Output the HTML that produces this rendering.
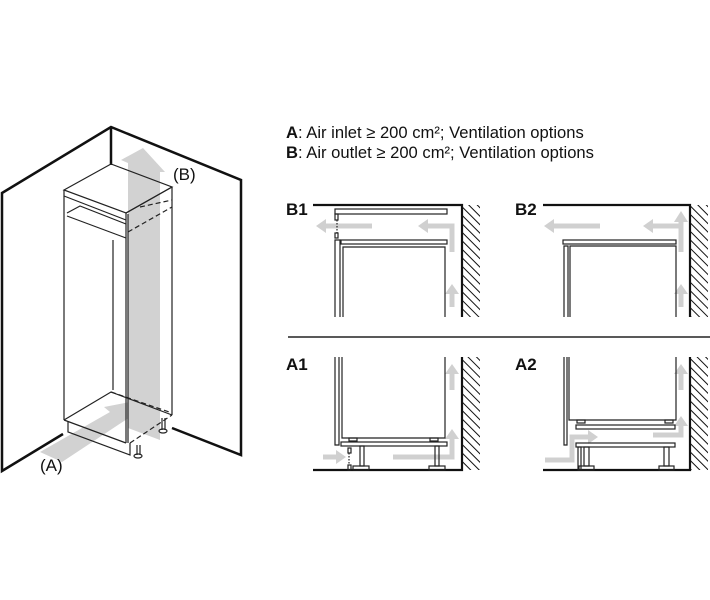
<!DOCTYPE html>
<html><head><meta charset="utf-8"><style>
html,body{margin:0;padding:0;background:#fff;}
svg{display:block;}
text{font-family:"Liberation Sans",Arial,sans-serif;}
</style></head><body>
<svg width="710" height="600" viewBox="0 0 710 600" xmlns="http://www.w3.org/2000/svg">
<defs>
<pattern id="h" width="6" height="6" patternUnits="userSpaceOnUse" patternTransform="rotate(-45)">
<line x1="0" y1="0" x2="0" y2="6" stroke="#111" stroke-width="2"/>
</pattern>
</defs>
<rect width="710" height="600" fill="#fff"/>

<!-- Header text -->
<text x="286" y="138" font-size="16.6" fill="#111"><tspan font-weight="bold">A</tspan>: Air inlet ≥ 200 cm²; Ventilation options</text>
<text x="286" y="158" font-size="16.6" fill="#111"><tspan font-weight="bold">B</tspan>: Air outlet ≥ 200 cm²; Ventilation options</text>

<!-- LEFT ISO -->
<g fill="none" stroke="#111" stroke-width="2.5">
<polyline points="63,434 2,471 2,193 111,127 241,180 241,455 172,428"/>
<line x1="111" y1="127" x2="111" y2="165"/>
</g>
<g fill="#d2d2d2">
<polygon points="143,148 165,172 160,172 160,440 128,428 128,163 121,160"/>
<polygon points="40,452 110,412 104,407 140,400 138,420 130,417 62,462"/>
</g>
<g fill="none" stroke="#222" stroke-width="1.2">
<polygon points="64,190 111,164 172,187 126,213"/>
<line x1="64" y1="190" x2="64" y2="420"/>
<line x1="126" y1="213" x2="126" y2="443"/>
<line x1="128" y1="214" x2="128" y2="443"/>
<line x1="172" y1="187" x2="172" y2="415"/>
<line x1="126" y1="213" x2="172" y2="187"/>
<line x1="64" y1="196" x2="126" y2="220"/>
<polyline points="67,213 80,206 126,224"/>
<line x1="67" y1="216" x2="126" y2="238"/>
<line x1="113" y1="240" x2="113" y2="390"/>
<polyline points="64,420 111,392 172,415"/>
<line x1="64" y1="420" x2="126" y2="443"/>
<polyline points="68,421 68,432 130,455 130,443"/>
<line x1="130" y1="443" x2="172" y2="415" stroke-dasharray="5,3"/>
<line x1="111" y1="392" x2="172" y2="413" stroke-dasharray="5,3"/>
<line x1="128" y1="232" x2="172" y2="207" stroke-dasharray="5,3"/>
<line x1="140" y1="207" x2="172" y2="200" stroke-dasharray="5,3"/>
<line x1="137" y1="445" x2="137" y2="455"/><line x1="140" y1="445" x2="140" y2="455"/>
<ellipse cx="138" cy="456" rx="4" ry="2"/>
<line x1="162" y1="418" x2="162" y2="430"/><line x1="165" y1="418" x2="165" y2="430"/>
<ellipse cx="163" cy="431" rx="4" ry="2"/>
</g>
<text x="173" y="180" font-size="17" fill="#111">(B)</text>
<text x="40" y="471" font-size="17" fill="#111">(A)</text>

<line x1="288" y1="337" x2="710" y2="337" stroke="#222" stroke-width="1.5"/>

<g font-size="17" font-weight="bold" fill="#111">
<text x="286" y="215">B1</text><text x="515" y="215">B2</text>
<text x="286" y="370">A1</text><text x="515" y="370">A2</text>
</g>

<rect x="463" y="205" width="17" height="112" fill="url(#h)"/>
<rect x="691" y="205" width="17" height="112" fill="url(#h)"/>
<rect x="463" y="357" width="17" height="113" fill="url(#h)"/>
<rect x="691" y="357" width="17" height="113" fill="url(#h)"/>

<g stroke="#111" stroke-width="2.2" fill="none">
<polyline points="313,205 462,205 462,317"/>
<polyline points="543,205 690,205 690,317"/>
<polyline points="462,357 462,470 313,470"/>
<polyline points="690,357 690,470 543,470"/>
</g>

<g stroke="#d0d0d0" stroke-width="5" fill="none">
<line x1="372" y1="226" x2="325" y2="226"/>
<polyline points="428,226 452,226 452,252"/>
<line x1="452" y1="307" x2="452" y2="292"/>
<line x1="600" y1="226" x2="553" y2="226"/>
<polyline points="681,252 681,222"/><line x1="681" y1="226" x2="651" y2="226"/>
<line x1="681" y1="307" x2="681" y2="292"/>
<line x1="452" y1="390" x2="452" y2="372"/>
<line x1="323" y1="457" x2="337" y2="457"/>
<polyline points="393,457 452,457 452,438"/>
<line x1="681" y1="390" x2="681" y2="372"/>
<polyline points="545,460 572,460 572,437 590,437"/>
<polyline points="653,435 681,435 681,424"/>
</g>
<g fill="#d0d0d0">
<polygon points="316,226 326,219 326,233"/>
<polygon points="418,226 428,219 428,233"/>
<polygon points="452,284 445,294 459,294"/>
<polygon points="544,226 554,219 554,233"/>
<polygon points="643,226 653,219 653,233"/>
<polygon points="681,211 674,222 688,222"/>
<polygon points="681,284 674,294 688,294"/>
<polygon points="452,364 445,374 459,374"/>
<polygon points="346,457 336,450 336,464"/>
<polygon points="452,429 445,439 459,439"/>
<polygon points="681,364 674,374 688,374"/>
<polygon points="598,437 588,430 588,444"/>
<polygon points="681,416 674,426 688,426"/>
</g>

<g stroke="#222" stroke-width="1.2" fill="none">
<rect x="335" y="209" width="112" height="5"/>
<rect x="335" y="214" width="3" height="6"/>
<line x1="337" y1="220" x2="337" y2="233" stroke-dasharray="1.5,1.5"/>
<rect x="335" y="233" width="3" height="5"/>
<rect x="341" y="240" width="106" height="4"/>
<polyline points="335,317 335,240 340,240 340,317"/>
<polyline points="343,317 343,247 445,247 445,317"/>
</g>
<g stroke="#222" stroke-width="1.2" fill="none">
<rect x="563" y="240" width="113" height="4"/>
<polyline points="564,317 564,246 568,246 568,317"/>
<polyline points="570,317 570,246 676,246 676,317"/>
</g>
<g stroke="#222" stroke-width="1.2" fill="none">
<polyline points="335,357 335,445 339,445 339,357"/>
<polyline points="342,357 342,438 445,438 445,357"/>
<rect x="349" y="438" width="8" height="3"/><rect x="430" y="438" width="8" height="3"/>
<rect x="341" y="442" width="106" height="4"/>
<rect x="360" y="446" width="4" height="20"/><rect x="435" y="446" width="4" height="20"/>
<rect x="353" y="466" width="16" height="4"/><rect x="429" y="466" width="16" height="4"/>
<rect x="348" y="448" width="3" height="5"/>
<line x1="349" y1="453" x2="349" y2="465" stroke-dasharray="1.5,1.5"/>
<rect x="348" y="465" width="3" height="5"/>
</g>
<g stroke="#222" stroke-width="1.2" fill="none">
<polyline points="564,357 564,445 567,445 567,357"/>
<polyline points="569,357 569,420 676,420 676,357"/>
<rect x="577" y="420" width="8" height="3"/><rect x="665" y="420" width="8" height="3"/>
<rect x="576" y="425" width="99" height="4"/>
<rect x="576" y="443" width="99" height="4"/>
<rect x="578" y="447" width="3" height="23"/>
<rect x="584" y="447" width="5" height="19"/><rect x="664" y="447" width="5" height="19"/>
<rect x="579" y="466" width="15" height="4"/><rect x="659" y="466" width="15" height="4"/>
</g>
</svg>
</body></html>
